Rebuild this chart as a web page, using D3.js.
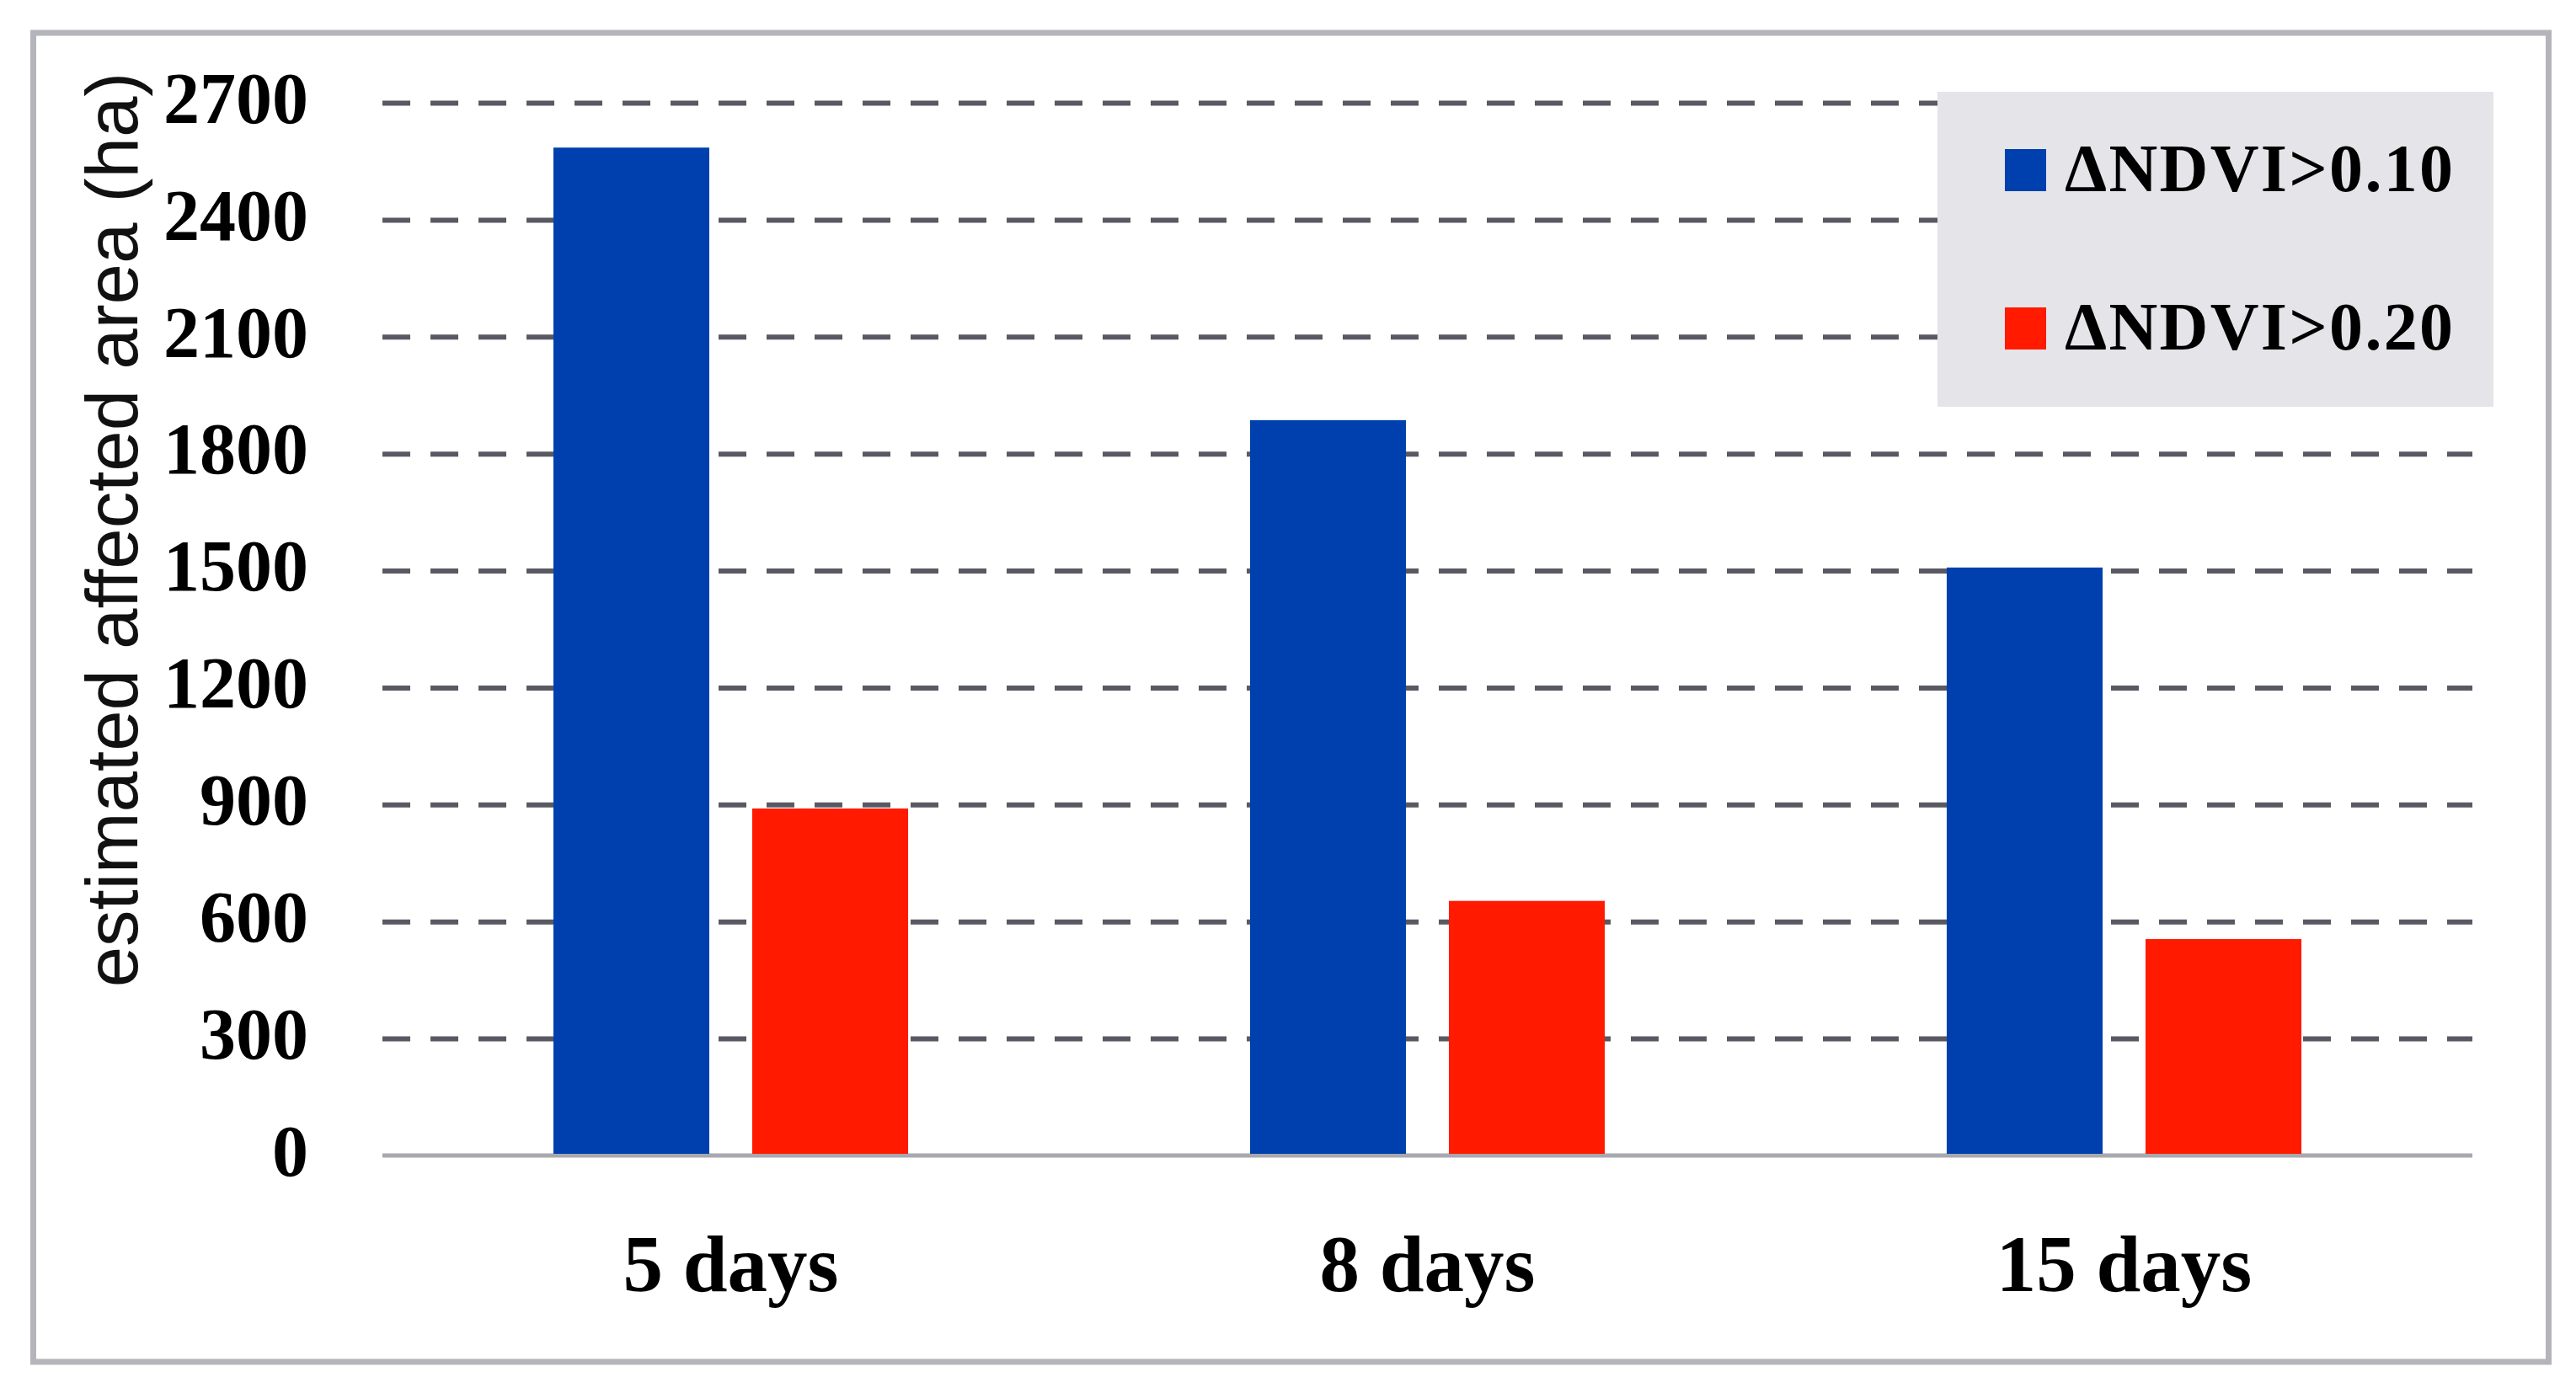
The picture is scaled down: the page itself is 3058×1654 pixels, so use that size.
<!DOCTYPE html>
<html><head><meta charset="utf-8">
<script src="https://cdn.jsdelivr.net/npm/d3@7"></script>
<style>html,body{margin:0;padding:0;background:#fff;} svg{display:block}</style>
</head><body>
<script>
const categories = ["5 days", "8 days", "15 days"];
const seriesNames = ["ΔNDVI>0.10", "ΔNDVI>0.20"];
const seriesA = [2585, 1886, 1508];
const seriesB = [890, 653, 555];
const yTicks = [0, 300, 600, 900, 1200, 1500, 1800, 2100, 2400, 2700];
const colors = ["#0040ae", "#ff1a00"];
const yTitle = "estimated affected area (ha)";

const W = 3058, H = 1654;
const serif = "'Liberation Serif','DejaVu Serif',serif";
const sans = "'Liberation Sans','DejaVu Sans',sans-serif";

const svg = d3.select("body").append("svg").attr("width", W).attr("height", H);
svg.append("rect").attr("width", W).attr("height", H).attr("fill", "#fff");
svg.append("rect").attr("x", 39.5).attr("y", 39).attr("width", 2986).attr("height", 1578)
  .attr("fill", "none").attr("stroke", "#b4b4bb").attr("stroke-width", 7);

const xL = 454, xR = 2935;
const x0 = d3.scaleBand().domain(categories).range([xL, xR]).padding(0);
const x1 = d3.scaleBand().domain(seriesNames).range([0, x0.bandwidth()])
  .paddingInner(0.216).paddingOuter(0.86);
const y = d3.scaleLinear().domain([0, 2700]).range([1372, 122]);

// gridlines
const grid = svg.append("g").attr("transform", `translate(${xL},0)`)
  .call(d3.axisLeft(y).tickValues(yTicks.filter(d => d > 0)).tickSize(-(xR - xL)).tickFormat(""));
grid.select(".domain").remove();
grid.selectAll("line").attr("stroke", "#595963").attr("stroke-width", 6).attr("stroke-dasharray", "33,24");

// y tick labels
const yAx = svg.append("g").attr("transform", `translate(${xL},0)`)
  .call(d3.axisLeft(y).tickValues(yTicks).tickFormat(d3.format("d")).tickSize(0).tickPadding(88));
yAx.select(".domain").remove();
yAx.selectAll("text").attr("font-family", serif).attr("font-weight", "bold")
  .attr("font-size", 86).attr("fill", "#000").attr("dy", "0.27em");

// baseline
svg.append("line").attr("x1", xL).attr("x2", xR).attr("y1", y(0)).attr("y2", y(0))
  .attr("stroke", "#a8a8af").attr("stroke-width", 5);

// bars
const data = categories.map((c, i) => ({c, vals: [seriesA[i], seriesB[i]]}));
const groups = svg.append("g").selectAll("g").data(data).join("g")
  .attr("transform", d => `translate(${x0(d.c)},0)`);
groups.selectAll("rect").data(d => d.vals.map((v, j) => ({s: seriesNames[j], v, j}))).join("rect")
  .attr("x", d => x1(d.s)).attr("width", x1.bandwidth())
  .attr("y", d => y(d.v)).attr("height", d => y(0) - y(d.v) - 2)
  .attr("fill", d => colors[d.j]);

// x labels
const xAx = svg.append("g").attr("transform", `translate(0,${y(0)})`)
  .call(d3.axisBottom(x0).tickSize(0).tickPadding(0));
xAx.select(".domain").remove();
xAx.selectAll("text").attr("font-family", serif).attr("font-weight", "bold")
  .attr("font-size", 95).attr("fill", "#000").attr("dy", 0).attr("y", 161);

// y title
svg.append("text").attr("transform", "translate(163,629) rotate(-90)")
  .attr("text-anchor", "middle").attr("font-family", sans).attr("font-size", 87)
  .attr("fill", "#111").text(yTitle);

// legend
const lg = svg.append("g");
lg.append("rect").attr("x", 2300).attr("y", 109).attr("width", 660).attr("height", 374).attr("fill", "#e5e5e9");
const legY = d3.scalePoint().domain(seriesNames).range([227, 415]);
seriesNames.forEach((s, j) => {
  lg.append("rect").attr("x", 2380).attr("y", legY(s) - 50).attr("width", 49).attr("height", 50).attr("fill", colors[j]);
  lg.append("text").attr("x", 2451).attr("y", legY(s)).attr("font-family", serif).attr("font-weight", "bold")
    .attr("font-size", 80).attr("textLength", 461).attr("lengthAdjust", "spacing").attr("fill", "#000").text(s);
});
</script>
</body></html>
